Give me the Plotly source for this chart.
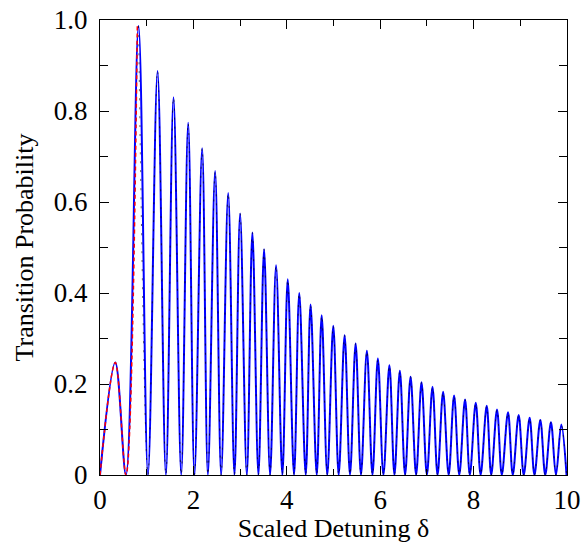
import plotly.graph_objects as go

# Extrema of the transition probability curve (scaled detuning, probability)
peak_delta = [0.327, 0.825, 1.232, 1.574, 1.888, 2.187, 2.465, 2.745, 3.000, 3.263,
              3.513, 3.770, 4.020, 4.267, 4.509, 4.747, 4.995, 5.238, 5.474, 5.715,
              5.950, 6.197, 6.421, 6.650, 6.885, 7.120, 7.347, 7.582, 7.817, 8.046,
              8.281, 8.501, 8.737, 8.965, 9.200, 9.429, 9.656, 9.878]
peak_prob = [0.247, 0.987, 0.888, 0.830, 0.774, 0.718, 0.668, 0.620, 0.575, 0.533,
             0.496, 0.461, 0.430, 0.400, 0.375, 0.351, 0.328, 0.307, 0.289, 0.273,
             0.256, 0.241, 0.229, 0.216, 0.204, 0.194, 0.183, 0.175, 0.166, 0.159,
             0.152, 0.144, 0.138, 0.132, 0.126, 0.121, 0.116, 0.111]
zero_delta = [0.0, 0.556, 1.027, 1.411, 1.739, 2.023, 2.310, 2.594, 2.879, 3.144,
              3.392, 3.642, 3.905, 4.155, 4.405, 4.641, 4.867, 5.111, 5.353, 5.588,
              5.834, 6.069, 6.305, 6.533, 6.769, 7.000, 7.228, 7.466, 7.693, 7.919,
              8.150, 8.377, 8.604, 8.839, 9.074, 9.303, 9.534, 9.763, 9.990]

# Low-detuning branch (red dashed)
low_delta = [0.0, 0.327, 0.556, 0.800]
low_prob = [0.0, 0.247, 0.0, 0.993]

x_tick_vals = [0, 2, 4, 6, 8, 10]
x_tick_text = ["0", "2", "4", "6", "8", "10"]
y_tick_vals = [0, 0.2, 0.4, 0.6, 0.8, 1.0]
y_tick_text = ["0", "0.2", "0.4", "0.6", "0.8", "1.0"]

# Merge zeros and peaks into one alternating sequence
pts = sorted([(d, 0.0) for d in zero_delta] + list(zip(peak_delta, peak_prob)))
full_x = [p[0] for p in pts]
full_y = [p[1] for p in pts]
start = full_x.index(peak_delta[1])
approx_x = full_x[start:]
approx_y = full_y[start:]

font_family = "Liberation Serif, Times New Roman, serif"

fig = go.Figure()
fig.add_trace(go.Scatter(x=full_x, y=full_y, mode="lines",
                         line=dict(color="#0000ff", width=2.0, shape="spline", smoothing=1),
                         showlegend=False, hoverinfo="skip"))
fig.add_trace(go.Scatter(x=approx_x, y=approx_y, mode="lines",
                         line=dict(color="#000000", width=0.9, dash="2px,7px",
                                   shape="spline", smoothing=1),
                         opacity=0.7, showlegend=False, hoverinfo="skip"))
fig.add_trace(go.Scatter(x=low_delta, y=low_prob, mode="lines",
                         line=dict(color="#ff0000", width=1.5, dash="4px,3px",
                                   shape="spline", smoothing=1),
                         showlegend=False, hoverinfo="skip"))

axis_common = dict(
    showline=True, linecolor="black", linewidth=1.2, mirror="ticks",
    ticks="inside", tickcolor="black", tickwidth=1.2,
    showgrid=False, zeroline=False, automargin=False,
    tickfont=dict(family=font_family, size=27, color="black"),
)

fig.update_xaxes(
    range=[0, 10], tickvals=x_tick_vals, ticktext=x_tick_text, ticklen=9,
    minor=dict(dtick=1, tick0=0, ticks="inside", ticklen=6, tickcolor="black", tickwidth=1.2),
    title=dict(text="Scaled Detuning δ", font=dict(family=font_family, size=26, color="black"),
               standoff=10),
    **axis_common,
)
fig.update_yaxes(
    range=[0, 1.0], tickvals=y_tick_vals, ticktext=y_tick_text, ticklen=9,
    minor=dict(dtick=0.1, tick0=0, ticks="inside", ticklen=8, tickcolor="black", tickwidth=1.2),
    title=dict(text="Transition Probability", font=dict(family=font_family, size=26, color="black"),
               standoff=12),
    ticklabelstandoff=6,
    **axis_common,
)

fig.update_layout(
    width=581, height=543,
    margin=dict(l=100, r=14, t=20, b=68),
    plot_bgcolor="white", paper_bgcolor="white",
)

fig.write_html("out.html")
